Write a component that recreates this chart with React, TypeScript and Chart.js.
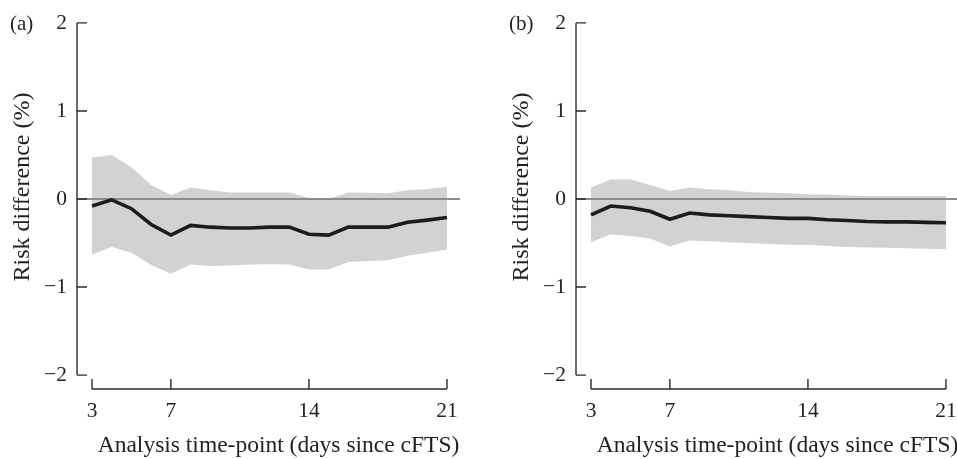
import React, { useEffect, useRef } from "react";
import { Chart, registerables } from "chart.js";

Chart.register(...registerables);

// ---- data ----
const days = [3, 4, 5, 6, 7, 8, 9, 10, 11, 12, 13, 14, 15, 16, 17, 18, 19, 20, 21];

const riskA = [-0.08, -0.01, -0.11, -0.29, -0.41, -0.3, -0.32, -0.33, -0.33, -0.32, -0.32, -0.4, -0.41, -0.32, -0.32, -0.32, -0.265, -0.24, -0.21];
const upperA = [0.47, 0.5, 0.36, 0.16, 0.045, 0.13, 0.1, 0.075, 0.075, 0.075, 0.075, 0.01, 0.0, 0.075, 0.07, 0.065, 0.1, 0.11, 0.14];
const lowerA = [-0.63, -0.545, -0.61, -0.75, -0.85, -0.745, -0.76, -0.755, -0.745, -0.74, -0.745, -0.8, -0.8, -0.715, -0.705, -0.695, -0.645, -0.61, -0.575];

const riskB = [-0.18, -0.08, -0.1, -0.14, -0.23, -0.16, -0.18, -0.19, -0.2, -0.21, -0.22, -0.22, -0.235, -0.245, -0.255, -0.26, -0.26, -0.265, -0.27];
const upperB = [0.13, 0.22, 0.22, 0.16, 0.09, 0.13, 0.11, 0.1, 0.08, 0.07, 0.065, 0.055, 0.05, 0.04, 0.035, 0.035, 0.035, 0.035, 0.035];
const lowerB = [-0.49, -0.4, -0.42, -0.45, -0.54, -0.47, -0.48, -0.49, -0.5, -0.51, -0.52, -0.52, -0.535, -0.545, -0.55, -0.555, -0.56, -0.565, -0.57];

const xTicks = [3, 7, 14, 21];
const yTicks = [-2, -1, 0, 1, 2];
const panelLabels = ["(a)", "(b)"];
const xTitle = "Analysis time-point (days since cFTS)";
const yTitle = "Risk difference (%)";

const FONT = "'Liberation Serif', 'DejaVu Serif', serif";
const TEXT = "#231f20";

function fmt(v: number) {
  return v < 0 ? "\u2212" + Math.abs(v) : String(v);
}

function makeChart(canvas: HTMLCanvasElement, label: string, risk: number[], upper: number[], lower: number[]) {
  const pts = (arr: number[]) => days.map((d, i) => ({ x: d, y: arr[i] }));
  const decor = {
    id: "decor",
    afterDatasetDraw(chart: any, args: any) {
      if (args.index !== 1) return;
      const { ctx, chartArea, scales } = chart;
      const y0 = scales.y.getPixelForValue(0);
      ctx.save();
      ctx.strokeStyle = "#8c8c8c";
      ctx.lineWidth = 2.2;
      ctx.beginPath();
      ctx.moveTo(chartArea.left, y0);
      ctx.lineTo(chartArea.right, y0);
      ctx.stroke();
      ctx.restore();
    },
    afterDraw(chart: any) {
      const { ctx, chartArea, scales } = chart;
      const x = scales.x;
      const y = scales.y;
      ctx.save();
      ctx.strokeStyle = "#2a2a2a";
      ctx.lineWidth = 1.4;
      const L = chartArea.left;
      const B = chartArea.bottom;
      ctx.beginPath();
      ctx.moveTo(L, y.getPixelForValue(yTicks[yTicks.length - 1]));
      ctx.lineTo(L, y.getPixelForValue(yTicks[0]));
      yTicks.forEach((v) => {
        const p = y.getPixelForValue(v);
        ctx.moveTo(L, p);
        ctx.lineTo(L + 10, p);
      });
      ctx.moveTo(x.getPixelForValue(xTicks[0]), B);
      ctx.lineTo(x.getPixelForValue(xTicks[xTicks.length - 1]), B);
      xTicks.forEach((v) => {
        const p = x.getPixelForValue(v);
        ctx.moveTo(p, B);
        ctx.lineTo(p, B - 10);
      });
      ctx.stroke();

      ctx.fillStyle = TEXT;
      // panel label
      ctx.font = `21px ${FONT}`;
      ctx.textAlign = "left";
      ctx.textBaseline = "middle";
      ctx.fillText(label, 10, y.getPixelForValue(2) + 2);
      // x title
      ctx.font = `23.5px ${FONT}`;
      ctx.textAlign = "center";
      ctx.textBaseline = "alphabetic";
      ctx.fillText(xTitle, (chartArea.left + chartArea.right) / 2 + 10, 452);
      // y title
      ctx.font = `24px ${FONT}`;
      ctx.textBaseline = "middle";
      ctx.translate(23, (y.getPixelForValue(2) + y.getPixelForValue(-2)) / 2 - 12);
      ctx.rotate(-Math.PI / 2);
      ctx.fillText(yTitle, 0, 0);
      ctx.restore();
    },
  };

  return new Chart(canvas, {
    type: "line",
    data: {
      datasets: [
        {
          data: pts(risk),
          borderColor: "#1c1c1c",
          borderWidth: 3.6,
          pointRadius: 0,
          fill: false,
          tension: 0,
        },
        {
          data: pts(upper),
          borderWidth: 0,
          borderColor: "rgba(0,0,0,0)",
          backgroundColor: "#d1d2d4",
          pointRadius: 0,
          fill: "+1",
          tension: 0,
        },
        {
          data: pts(lower),
          borderWidth: 0,
          borderColor: "rgba(0,0,0,0)",
          pointRadius: 0,
          fill: false,
          tension: 0,
        },
      ],
    },
    options: {
      animation: false,
      responsive: false,
      layout: { padding: { top: 20, right: 39, left: 0, bottom: 0 } },
      plugins: { legend: { display: false }, tooltip: { enabled: false } },
      scales: {
        x: {
          type: "linear",
          min: 2.239,
          max: 21.66,
          grid: { display: false, drawTicks: false },
          border: { display: false },
          afterBuildTicks: (s: any) => {
            s.ticks = xTicks.map((v) => ({ value: v }));
          },
          afterFit: (s: any) => {
            s.height = 70;
          },
          ticks: {
            autoSkip: false,
            maxRotation: 0,
            padding: 9,
            color: TEXT,
            font: { family: FONT, size: 21.5 },
            callback: (v: any) => fmt(Number(v)),
          },
        },
        y: {
          type: "linear",
          min: -2.158,
          max: 2,
          grid: { display: false, drawTicks: false },
          border: { display: false },
          afterBuildTicks: (s: any) => {
            s.ticks = yTicks.map((v) => ({ value: v }));
          },
          afterFit: (s: any) => {
            s.width = 77;
          },
          ticks: {
            autoSkip: false,
            padding: 10,
            color: TEXT,
            font: { family: FONT, size: 21.5 },
            callback: (v: any) => fmt(Number(v)),
          },
        },
      },
    },
    plugins: [decor],
  } as any);
}

export default function App() {
  const refA = useRef<HTMLCanvasElement>(null);
  const refB = useRef<HTMLCanvasElement>(null);
  useEffect(() => {
    const a = makeChart(refA.current!, panelLabels[0], riskA, upperA, lowerA);
    const b = makeChart(refB.current!, panelLabels[1], riskB, upperB, lowerB);
    return () => {
      a.destroy();
      b.destroy();
    };
  }, []);
  return (
    <div style={{ position: "fixed", left: 0, top: 0, width: 957, height: 459, overflow: "hidden", background: "#fff" }}>
      <canvas ref={refA} width={499} height={459} style={{ position: "absolute", left: 0, top: 0 }} />
      <canvas ref={refB} width={499} height={459} style={{ position: "absolute", left: 499, top: 0 }} />
    </div>
  );
}
